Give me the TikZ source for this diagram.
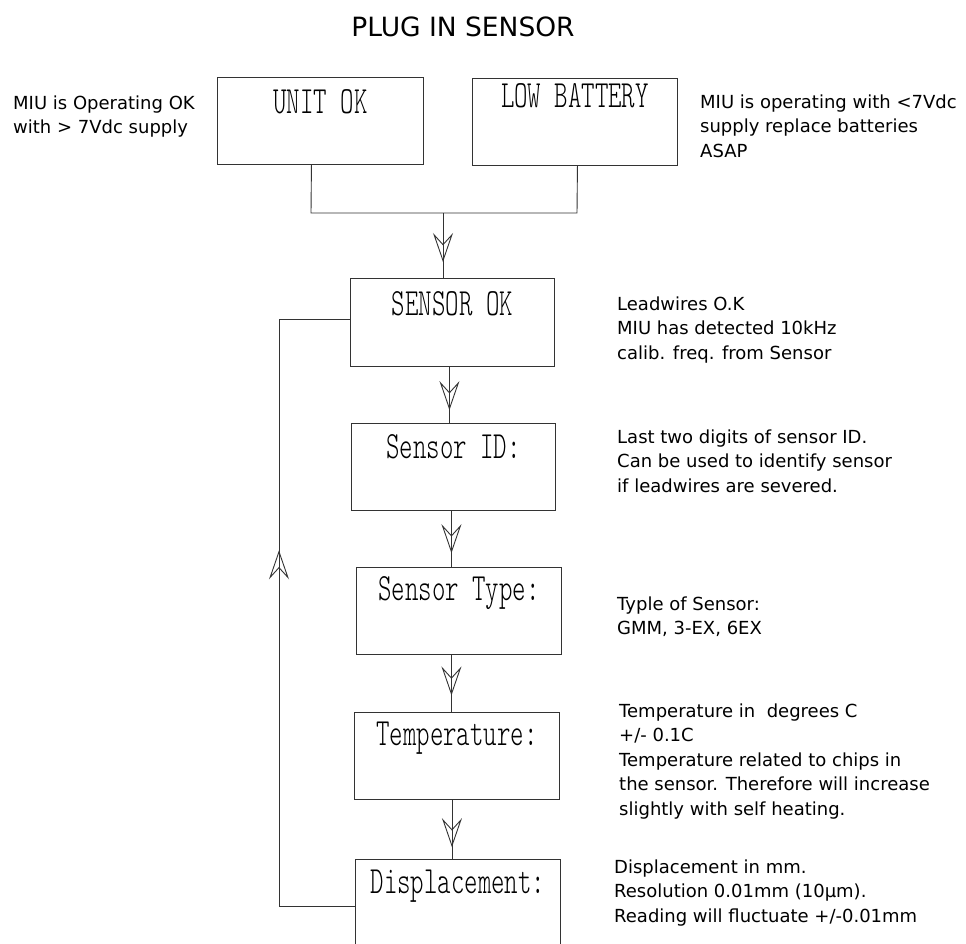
\documentclass[tikz,border=0pt]{standalone}
\usepackage{fontspec}
\setmainfont{DejaVu Sans}
\newfontfamily\boxfont[FakeStretch=0.665]{lmmonolt10-regular.otf}
\usetikzlibrary{arrows.meta,decorations.markings,calc}
\tikzset{
  myhead/.tip={Stealth[open,length=29pt,width=20pt,inset=11pt,line width=0.9pt]},
  ln/.style={line width=0.9pt,draw=black!80},
  boxn/.style={draw=black!80,line width=0.9pt,rectangle,anchor=north west,inner sep=0pt},
  boxlbl/.style={font=\boxfont\fontsize{38.5}{40}\selectfont,anchor=base,inner sep=0pt},
  side/.style={font=\fontsize{18}{24.5}\selectfont,align=left,anchor=north west,inner sep=0pt},
  midarrow/.style={postaction={decorate},decoration={markings,mark=at position #1 with {\arrow{myhead}}}},
}
\begin{document}
\begin{tikzpicture}[x=1pt,y=-1pt]
\useasboundingbox (0,0) rectangle (966,944);
\clip (0,0) rectangle (966,944);
\fill[white] (0,0) rectangle (966,944);

\node[font=\fontsize{26.5}{30}\selectfont,anchor=base,inner sep=0pt] (title) at (463,37) {PLUG IN SENSOR};

% boxes
\node[boxn,minimum width=206pt,minimum height=87pt] (uok) at (217,77) {};
\node[boxn,minimum width=205pt,minimum height=87pt] (lowb) at (472,78) {};
\node[boxn,minimum width=204pt,minimum height=88pt] (sok) at (350,278) {};
\node[boxn,minimum width=204pt,minimum height=87pt] (sid) at (351,423) {};
\node[boxn,minimum width=205pt,minimum height=87pt] (styp) at (356,567) {};
\node[boxn,minimum width=205pt,minimum height=87pt] (stemp) at (354,712) {};
\node[boxn,minimum width=205pt,minimum height=110pt] (sdisp) at (355,859) {};

% box labels
\node[boxlbl] (uokL) at ([yshift=-37pt]uok.north) {UNIT OK};
\node[boxlbl] (lowbL) at ([yshift=-30pt]lowb.north) {LOW BATTERY};
\node[boxlbl] (sokL) at ([yshift=-37pt]sok.north) {SENSOR OK};
\node[boxlbl] (sidL) at ([yshift=-35pt]sid.north) {Sensor ID:};
\node[boxlbl] (stypL) at ([yshift=-33pt]styp.north) {Sensor Type:};
\node[boxlbl] (stempL) at ([yshift=-33pt]stemp.north) {Temperature:};
\node[boxlbl] (sdispL) at ([yshift=-34pt]sdisp.north) {Displacement:};

% side texts
\node[side] (t1) at (13,95.5) {MIU is Operating OK\\with > 7Vdc supply};
\node[side] (t2) at (700,94.5) {MIU is operating with <7Vdc\\supply replace batteries\\ASAP};
\node[side] (t3) at (617,296.5) {Leadwires O.K\\MIU has detected 10kHz\\calib. freq. from Sensor};
\node[side] (t4) at (617,429.5) {Last two digits of sensor ID.\\Can be used to identify sensor\\if leadwires are severed.};
\node[side] (t5) at (617,596.5) {Typle of Sensor:\\GMM, 3-EX, 6EX};
\node[side] (t6) at (619,703.5) {Temperature in \ degrees C\\+/- 0.1C\\Temperature related to chips in\\the sensor. Therefore will increase\\slightly with self heating.};
\node[side] (t7) at (614,859.5) {Displacement in mm.\\Resolution 0.01mm (10µm).\\Reading will fluctuate +/-0.01mm};

% connectors
\coordinate (jl) at (311,213);
\coordinate (jr) at (577,213);
\coordinate (j) at (443,213);
\draw[ln] ([xshift=-9pt]uok.south) -- (jl) -- (jr) -- ([xshift=2.5pt]lowb.south);
\draw[ln,midarrow=0.754] (j) -- (j |- sok.north);
\draw[ln,midarrow=0.77] ([xshift=-3pt]sok.south) -- ([xshift=-3pt]sok.south |- sid.north);
\draw[ln,midarrow=0.754] ([xshift=-2pt]sid.south) -- ([xshift=-2pt]sid.south |- styp.north);
\draw[ln,midarrow=0.71] ([xshift=-7.5pt]styp.south) -- ([xshift=-7.5pt]styp.south |- stemp.north);
\draw[ln,midarrow=0.8] ([xshift=-5pt]stemp.south) -- ([xshift=-5pt]stemp.south |- sdisp.north);

% feedback loop
\coordinate (lb) at (279,906);
\coordinate (lt) at (279,319);
\draw[ln] (sdisp.west |- lb) -- (lb);
\draw[ln,midarrow=0.606] (lb) -- (lt);
\draw[ln] (lt) -- (sok.west |- lt);
\end{tikzpicture}
\end{document}
